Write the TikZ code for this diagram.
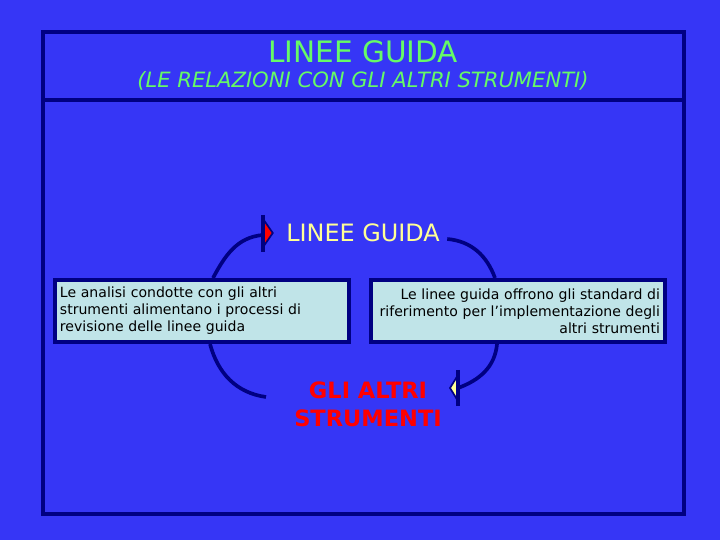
\documentclass[tikz,border=0pt]{standalone}
\usepackage{fontspec}
\setmainfont{DejaVu Sans}
\usetikzlibrary{arrows.meta, positioning}
\definecolor{bgblue}{RGB}{54,54,246}
\definecolor{navy}{RGB}{0,0,130}
\definecolor{boxfill}{RGB}{192,228,232}
\definecolor{titlegreen}{RGB}{102,250,102}
\definecolor{lightyellow}{RGB}{255,255,150}

\begin{document}
\begin{tikzpicture}[x=0.025cm, y=0.025cm,
    textbox/.style={draw=navy, line width=2.8pt, fill=boxfill, minimum height=1.55cm,
        text width=7.1cm, inner xsep=0.125cm, font=\fontsize{10}{12.1}\selectfont},
    cycle/.style={draw=navy, line width=2.6pt},
    tiphead/.style={draw=navy, line width=1.2pt, line join=miter},
    tipbar/.style={draw=navy, line width=3pt}]
    \fill[bgblue] (0,0) rectangle (720,540);
    \draw[navy, line width=2.8pt] (43,26) rectangle (684,508);
    \draw[navy, line width=2.8pt] (43,440) -- (684,440);
    \node[text=titlegreen, font=\fontsize{21}{25}\selectfont] (title) at (363,488) {LINEE GUIDA};
    \node[text=titlegreen, font=\fontsize{15}{18}\itshape] (subtitle) at (363,459) {(LE RELAZIONI CON GLI ALTRI STRUMENTI)};
    \node[text=lightyellow, font=\fontsize{17}{20}\selectfont, inner xsep=0.33cm] (lg) at (363,307) {LINEE GUIDA};
    \node[textbox, align=left] (lb) at (202,229) {Le analisi condotte con gli altri\\strumenti alimentano i processi di\\revisione delle linee guida};
    \node[textbox, align=right] (rb) at (518,229) {Le linee guida offrono gli standard di\\riferimento per l’implementazione degli\\altri strumenti};
    \node[text=red, font=\fontsize{16}{20}\bfseries, align=center, inner xsep=0.2cm] (ga) at (368,136) {GLI ALTRI\\STRUMENTI};
    % cycle arcs
    \draw[cycle] (213,0 |- lb.north) to[out=62, in=185] ([xshift=-0.25cm, yshift=-0.05cm]lg.west);
    \draw[cycle] ([xshift=-0.15cm, yshift=-0.15cm]lg.east) to[out=-5, in=110] (495,0 |- rb.north);
    \draw[cycle] (497,0 |- rb.south) to[out=-95, in=20] ([xshift=0.2cm, yshift=0.4cm]ga.east);
    \draw[cycle] (210,0 |- lb.south) to[out=-75, in=172] ([xshift=-0.5cm, yshift=0.175cm]ga.west);
    % arrowheads
    \draw[tiphead, fill=red] (lg.west) -- ++(-9,13) -- ++(0,-26) -- cycle;
    \draw[tipbar] ([xshift=-0.25cm]lg.west) ++(0,18) -- ++(0,-37);
    \draw[tiphead, fill=lightyellow] ([yshift=0.4cm]ga.east) -- ++(8,13) -- ++(0,-26) -- cycle;
    \draw[tipbar] ([xshift=0.2cm, yshift=0.4cm]ga.east) ++(0,18) -- ++(0,-36);
\end{tikzpicture}
\end{document}
